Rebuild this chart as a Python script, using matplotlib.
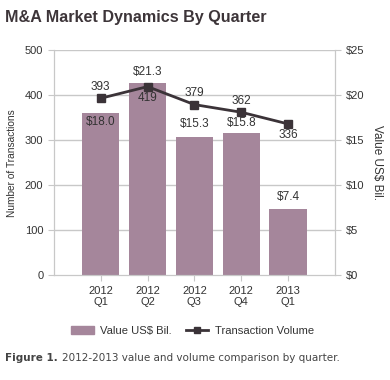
import matplotlib
matplotlib.use("Agg")
import matplotlib.pyplot as plt
from matplotlib.lines import Line2D
from matplotlib.patches import Patch

categories = ["2012\nQ1", "2012\nQ2", "2012\nQ3", "2012\nQ4", "2013\nQ1"]
values = [18.0, 21.3, 15.3, 15.8, 7.4]
volumes = [393, 419, 379, 362, 336]
left_ticks = [0, 100, 200, 300, 400, 500]
right_ticks = [0, 5, 10, 15, 20, 25]
right_tick_labels = ["$0", "$5", "$10", "$15", "$20", "$25"]

bar_color = "#a5869b"
line_color = "#3b3338"
text_color = "#333333"
grid_color = "#c8c8c8"

plt.rcParams['font.family'] = ['Liberation Sans', 'DejaVu Sans']

fig = plt.figure(figsize=(3.9, 3.8), dpi=100)
ax = fig.add_axes([0.138, 0.276, 0.721, 0.592])
ax2 = ax.twinx()

x = list(range(len(categories)))

# bars on right axis
ax2.bar(x, values, width=0.8, color=bar_color, zorder=2)
ax2.set_ylim(0, 25)
ax2.set_yticks(right_ticks)
ax2.set_yticklabels(right_tick_labels)
ax2.set_ylabel("Value US$ Bil.", rotation=-90, labelpad=14, fontsize=8.5, color=text_color)

# line on left axis, draw above bars
ax.set_zorder(ax2.get_zorder() + 1)
ax.patch.set_visible(False)
ax.plot(x, volumes, color=line_color, lw=2, marker='s', ms=6, zorder=5)
ax.set_ylim(0, 500)
ax.set_yticks(left_ticks)
ax.set_xlim(-1, len(categories))
ax.set_xticks(x)
ax.set_xticklabels(categories)
ax.set_ylabel("Number of Transactions", fontsize=7.3, color=text_color, labelpad=6)

# gridlines
for t in left_ticks[1:]:
    ax2.axhline(t / 20.0, color=grid_color, lw=1, zorder=1)

for a in (ax, ax2):
    for s in a.spines.values():
        s.set_color(grid_color)
    a.spines['top'].set_visible(False)
    a.tick_params(colors=grid_color, labelcolor=text_color, labelsize=8, length=4)

# annotations
bar_offsets = [-6.5, 8.6, 9.4, 7.2, 8.6]
for i, v in enumerate(values):
    ax2.annotate(f"${v:.1f}", (i, v), xytext=(0, bar_offsets[i]), textcoords='offset points',
                 ha='center', va='center', fontsize=8.5, color=text_color, zorder=6)
vol_offsets = [8, -8, 8, 8, -8]
for i, v in enumerate(volumes):
    ax.annotate(f"{v}", (i, v), xytext=(0, vol_offsets[i]), textcoords='offset points',
                ha='center', va='center', fontsize=8.5, color=text_color, zorder=6)

# title
fig.text(0.013, 0.955, "M&A Market Dynamics By Quarter", fontsize=11.6, fontweight='bold',
         color="#3d3539", ha='left', va='center')

# legend
handles = [Patch(color=bar_color, label="Value US$ Bil."),
           Line2D([0], [0], color=line_color, lw=2, marker='s', ms=4, label="Transaction Volume")]
fig.legend(handles=handles, loc='center', bbox_to_anchor=(0.494, 0.128), ncol=2, frameon=False,
           fontsize=8.1, handlelength=2.0, columnspacing=1.2, handletextpad=0.6,
           labelcolor=text_color)

# caption
fig.text(0.013, 0.058, "Figure 1.", fontsize=7.5, fontweight='bold', color="#444444",
         family='DejaVu Sans', ha='left', va='center')
fig.text(0.158, 0.058, "2012-2013 value and volume comparison by quarter.", fontsize=7.5,
         color="#444444", family='DejaVu Sans', ha='left', va='center')

fig.savefig("out.png", dpi=100)
